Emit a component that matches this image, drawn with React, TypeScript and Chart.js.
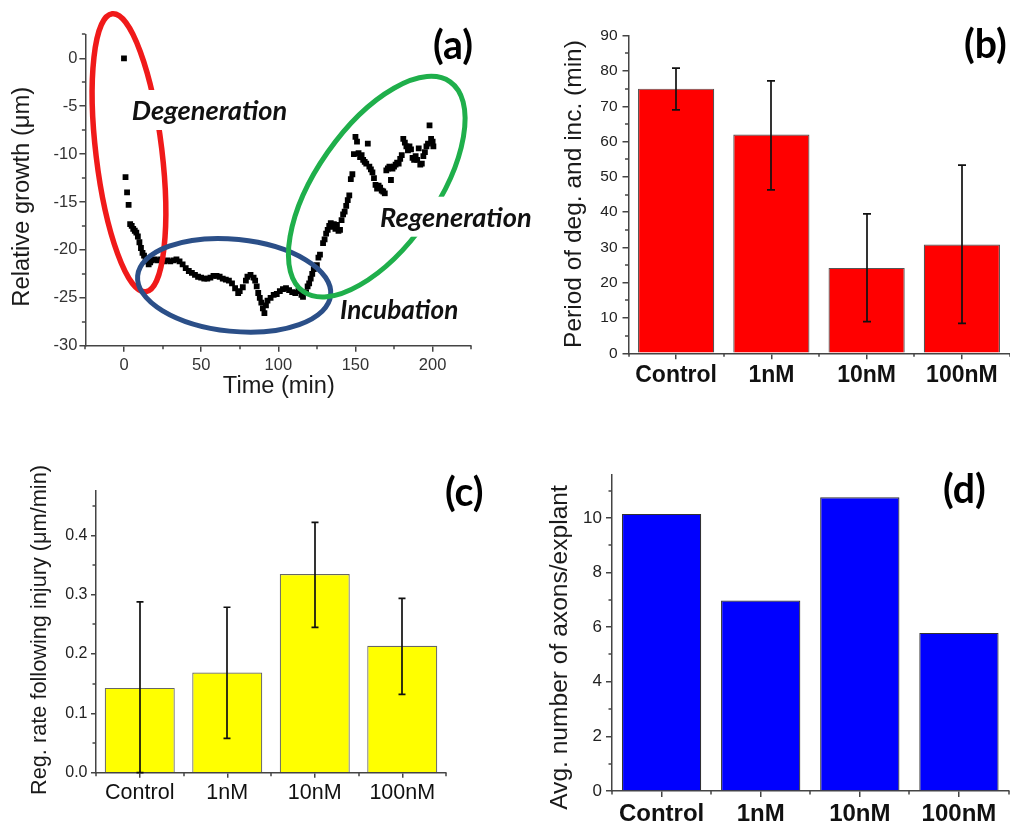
import React, { useEffect, useRef } from 'react';
import { Chart, registerables } from 'chart.js';
Chart.register(...registerables);

const W = 1010;
const H = 825;
const AX = '#444';
const FONT = '"Liberation Sans", Arial, sans-serif';
const LFONT = 'Lato, "Open Sans", sans-serif';

// ---------- Panel (a): relative growth vs time ----------
const timeMin = [
  0, 1, 2, 3, 4, 5, 6, 7, 8, 9,
  10, 11, 12, 13, 14, 15, 16, 17, 18, 20,
  22, 24, 26, 28, 30, 32, 34, 36, 38, 40,
  42, 44, 46, 48, 50, 52, 54, 56, 58, 60,
  62, 64, 66, 68, 70, 72, 74, 75, 77, 79,
  80, 82, 84, 85, 86, 87, 88, 89, 90, 91,
  92, 93, 95, 97, 99, 101, 103, 105, 107, 109,
  111, 113, 115, 116, 118, 119, 120, 121, 122, 123,
  125, 126, 127, 129, 130, 131, 132, 133, 134, 135,
  136, 137, 138, 139, 140, 141, 142, 143, 144, 145,
  146, 147, 148, 149, 150, 151, 152, 153, 154, 155,
  156, 157, 158, 159, 160, 161, 162, 163, 164, 165,
  166, 167, 168, 169, 170, 171, 172, 173, 174, 175,
  176, 177, 178, 179, 180, 181, 182, 183, 184, 185,
  186, 187, 188, 189, 190, 191, 192, 193, 194, 195,
  196, 197, 198, 199, 200, 200.5,
];
const growth = [
  0, -12.4, -14.0, -15.3, -17.3, -17.5, -17.8, -18.0, -18.2, -18.6,
  -19.2, -19.8, -20.3, -20.6, -20.9, -21.2, -21.5, -21.3, -21.1, -21.0,
  -21.1, -21.0, -21.2, -21.1, -21.2, -21.1, -21.0, -21.2, -21.5, -21.9,
  -22.2, -22.4, -22.6, -22.8, -22.9, -23.0, -23.0, -22.9, -22.7, -22.7,
  -22.8, -23.0, -23.1, -23.2, -23.5, -24.0, -24.5, -24.3, -23.9, -23.2,
  -22.8, -22.6, -22.9, -23.2, -23.8, -24.5, -25.0, -25.5, -26.1, -26.6,
  -25.8, -25.3, -25.0, -24.7, -24.6, -24.3, -24.1, -24.0, -24.2, -24.4,
  -24.5, -24.3, -24.7, -24.9, -24.4, -23.8, -23.5, -23.0, -22.5, -22.0,
  -21.6, -20.8, -20.5, -19.3, -18.9, -18.3, -17.9, -17.5, -17.2, -17.6,
  -17.3, -17.8, -17.4, -18.0, -17.9, -16.9, -16.3, -16.0, -15.4, -14.8,
  -14.3, -12.6, -12.1, -10.0, -8.2, -8.7, -9.9, -10.3, -10.1, -10.6,
  -10.8, -11.0, -8.9, -11.3, -11.6, -11.9, -12.5, -13.2, -13.6, -13.3,
  -13.5, -13.8, -13.9, -14.1, -11.7, -11.5, -11.3, -12.7, -11.5, -11.3,
  -11.1, -10.9, -11.0, -10.5, -10.1, -8.4, -8.8, -9.2, -9.6, -9.2,
  -9.5, -10.4, -10.6, -10.2, -10.6, -9.4, -11.1, -11.0, -10.2, -9.8,
  -9.2, -8.9, -7.0, -8.4, -8.7, -9.2,
];
const timeTicks = [0, 50, 100, 150, 200];
const timeMinor = [-25, 25, 75, 125, 175, 225];
const growthTicks = [-30, -25, -20, -15, -10, -5, 0];
const growthMinor = [-27.5, -22.5, -17.5, -12.5, -7.5, -2.5, 2.5];

// ---------- Bar panels ----------
const categories = ['Control', '1nM', '10nM', '100nM'];

const periodMean = [75, 62, 24.2, 30.8];
const periodLow = [69, 46.3, 9, 8.5];
const periodHigh = [80.8, 77.2, 39.5, 53.3];
const periodTicks = [0, 10, 20, 30, 40, 50, 60, 70, 80, 90];
const periodMinor = [5, 15, 25, 35, 45, 55, 65, 75, 85];

const regMean = [0.143, 0.169, 0.335, 0.214];
const regLow = [0, 0.058, 0.245, 0.132];
const regHigh = [0.288, 0.279, 0.422, 0.294];
const regTicks = [0, 0.1, 0.2, 0.3, 0.4];
const regMinor = [0.05, 0.15, 0.25, 0.35, 0.45];

const axonsMean = [10.15, 6.98, 10.76, 5.79];
const axonTicks = [0, 2, 4, 6, 8, 10];
const axonMinor = [1, 3, 5, 7, 9, 11];

type Area = { l: number; t: number; r: number; b: number };

function pad(a: Area, wy: number, hx: number) {
  return { left: a.l - wy, top: a.t, right: W - a.r, bottom: H - a.b - hx };
}

function fit(ctx: CanvasRenderingContext2D, text: string, width: number, font: (s: number) => string) {
  ctx.font = font(20);
  const w = ctx.measureText(text).width;
  return (20 * width) / w;
}

function drawYTitle(ctx: CanvasRenderingContext2D, text: string, cx: number, cy: number, len: number) {
  const f = (s: number) => `normal ${s}px ${FONT}`;
  const s = fit(ctx, text, len, f);
  ctx.save();
  ctx.translate(cx, cy);
  ctx.rotate(-Math.PI / 2);
  ctx.font = f(s);
  ctx.fillStyle = '#1a1a1a';
  ctx.textAlign = 'center';
  ctx.textBaseline = 'middle';
  ctx.fillText(text, 0, 0);
  ctx.restore();
}

function panelLabelSize(ctx: CanvasRenderingContext2D) {
  return fit(ctx, '(a)', 40, (s) => `bold ${s}px ${LFONT}`);
}

function drawPanelLabel(ctx: CanvasRenderingContext2D, text: string, x: number, base: number) {
  const s = panelLabelSize(ctx);
  ctx.save();
  ctx.font = `bold ${s}px ${LFONT}`;
  ctx.fillStyle = '#000';
  ctx.textAlign = 'left';
  ctx.textBaseline = 'alphabetic';
  ctx.fillText(text, x, base);
  ctx.restore();
}

function drawYMinor(chart: any, values: number[], len: number) {
  const ys = chart.scales.y;
  const ctx = chart.ctx as CanvasRenderingContext2D;
  const x0 = chart.chartArea.left;
  ctx.save();
  ctx.strokeStyle = AX;
  ctx.lineWidth = 1.5;
  values.forEach((v) => {
    const py = Math.round(ys.getPixelForValue(v));
    ctx.beginPath();
    ctx.moveTo(x0, py);
    ctx.lineTo(x0 - len, py);
    ctx.stroke();
  });
  ctx.restore();
}

function drawXMinorPixels(chart: any, pxs: number[], len: number) {
  const ctx = chart.ctx as CanvasRenderingContext2D;
  const y0 = chart.chartArea.bottom;
  ctx.save();
  ctx.strokeStyle = AX;
  ctx.lineWidth = 1.5;
  pxs.forEach((px) => {
    const x = Math.round(px);
    ctx.beginPath();
    ctx.moveTo(x, y0);
    ctx.lineTo(x, y0 + len);
    ctx.stroke();
  });
  ctx.restore();
}

function drawErrors(chart: any, low: number[], high: number[], cap: number) {
  const ctx = chart.ctx as CanvasRenderingContext2D;
  const meta = chart.getDatasetMeta(0);
  const ys = chart.scales.y;
  ctx.save();
  ctx.strokeStyle = '#111';
  ctx.lineWidth = 1.7;
  meta.data.forEach((bar: any, i: number) => {
    const x = Math.round(bar.x);
    const y1 = ys.getPixelForValue(low[i]);
    const y2 = ys.getPixelForValue(high[i]);
    ctx.beginPath();
    ctx.moveTo(x, y1);
    ctx.lineTo(x, y2);
    ctx.moveTo(x - cap, y1);
    ctx.lineTo(x + cap, y1);
    ctx.moveTo(x - cap, y2);
    ctx.lineTo(x + cap, y2);
    ctx.stroke();
  });
  ctx.restore();
}

function axis(o: { tl: number; size: number; bold?: boolean; color: string; padding: number }) {
  return {
    grid: {
      display: true,
      drawOnChartArea: false,
      drawTicks: true,
      tickLength: o.tl,
      color: AX,
      lineWidth: 1.5,
      offset: false,
    },
    border: { display: true, color: AX, width: 1.5 },
    ticks: {
      font: { family: FONT, size: o.size, weight: o.bold ? 'bold' : 'normal' },
      color: o.color,
      padding: o.padding,
      autoSkip: false,
      maxRotation: 0,
      minRotation: 0,
    },
  };
}

const baseOpts = {
  animation: false,
  responsive: false,
  maintainAspectRatio: false,
  devicePixelRatio: 1,
  events: [],
};

function makeA(canvas: HTMLCanvasElement) {
  const area: Area = { l: 85.4, t: 34.4, r: 471.2, b: 345.7 };
  const wy = 60;
  const hx = 30;
  const ellipses = [
    { cx: 3.24, cy: -9.86, rx: 33, ry: 140, rot: -0.12, color: '#f01a1a', lw: 5.5 },
    { cx: 71.4, cy: -23.7, rx: 97, ry: 46, rot: 0.1, color: '#2b4f88', lw: 5 },
    { cx: 163.8, cy: -13.4, rx: 128, ry: 60, rot: -0.96, color: '#1faf4b', lw: 5 },
  ];
  const notes = [
    { text: 'Degeneration', x: 131.7, base: 120, width: 155.6, box: true },
    { text: 'Regeneration', x: 380, base: 226.7, width: 151.7, box: true },
    { text: 'Incubation', x: 340, base: 319.3, width: 118.3, box: false },
  ];
  const overlay = {
    id: 'overlayA',
    afterDraw(chart: any) {
      const ctx = chart.ctx as CanvasRenderingContext2D;
      const xs = chart.scales.x;
      const ys = chart.scales.y;
      drawYMinor(chart, growthMinor, 3.5);
      drawXMinorPixels(chart, timeMinor.map((v) => xs.getPixelForValue(v)), 3.5);
      ellipses.forEach((e) => {
        ctx.save();
        ctx.strokeStyle = e.color;
        ctx.lineWidth = e.lw;
        ctx.beginPath();
        ctx.ellipse(xs.getPixelForValue(e.cx), ys.getPixelForValue(e.cy), e.rx, e.ry, e.rot, 0, Math.PI * 2);
        ctx.stroke();
        ctx.restore();
      });
      const nf = (s: number) => `italic bold ${s}px ${LFONT}`;
      notes.forEach((n) => {
        const s = fit(ctx, n.text, n.width, nf);
        ctx.save();
        if (n.box) {
          ctx.fillStyle = '#fff';
          ctx.fillRect(n.x - 4, n.base - 30, n.width + 8, 40);
        }
        ctx.font = nf(s);
        ctx.fillStyle = '#111';
        ctx.textAlign = 'left';
        ctx.textBaseline = 'alphabetic';
        ctx.fillText(n.text, n.x, n.base);
        ctx.restore();
      });
      drawYTitle(ctx, 'Relative growth (\u03bcm)', 22.5, 196.7, 220);
      const tf = (s: number) => `normal ${s}px ${FONT}`;
      const ts = fit(ctx, 'Time (min)', 112, tf);
      ctx.save();
      ctx.font = tf(ts);
      ctx.fillStyle = '#1a1a1a';
      ctx.textAlign = 'center';
      ctx.textBaseline = 'alphabetic';
      ctx.fillText('Time (min)', 278.8, 392.7);
      ctx.restore();
      drawPanelLabel(ctx, '(a)', 433, 58.5);
    },
  };
  const ax = axis({ tl: 6, size: 16.5, color: '#333', padding: 4 });
  const ay = axis({ tl: 6, size: 16.5, color: '#333', padding: 2 });
  return new Chart(canvas, {
    type: 'scatter',
    data: {
      datasets: [
        {
          data: timeMin.map((t, i) => ({ x: t, y: growth[i] })),
          pointStyle: 'rect',
          pointRadius: 4.1,
          backgroundColor: '#000',
          borderColor: '#000',
          borderWidth: 0,
        },
      ],
    },
    options: {
      ...baseOpts,
      layout: { padding: pad(area, wy, hx) },
      plugins: { legend: { display: false }, tooltip: { enabled: false } },
      scales: {
        x: {
          ...ax,
          type: 'linear',
          min: -25,
          max: 225,
          afterBuildTicks: (s: any) => {
            s.ticks = timeTicks.map((v) => ({ value: v }));
          },
          afterFit: (s: any) => {
            s.height = hx;
          },
        },
        y: {
          ...ay,
          type: 'linear',
          min: -30,
          max: 2.5,
          afterBuildTicks: (s: any) => {
            s.ticks = growthTicks.map((v) => ({ value: v }));
          },
          afterFit: (s: any) => {
            s.width = wy;
          },
        },
      },
    },
    plugins: [overlay],
  } as any);
}

type BarSpec = {
  area: Area;
  wy: number;
  hx: number;
  values: number[];
  low?: number[];
  high?: number[];
  color: string;
  border: string;
  yMax: number;
  yTicks: number[];
  yMinor: number[];
  dec: number;
  ySize: number;
  yPad: number;
  ytl: number;
  xSize: number;
  xBold: boolean;
  xPad: number;
  xtl: number;
  title: string;
  tx: number;
  ty: number;
  tlen: number;
  label: string;
  lx: number;
  lbase: number;
  cap: number;
};

function makeBar(canvas: HTMLCanvasElement, o: BarSpec) {
  const overlay = {
    id: 'overlayBar',
    afterDraw(chart: any) {
      const ctx = chart.ctx as CanvasRenderingContext2D;
      const xs = chart.scales.x;
      if (o.low && o.high) drawErrors(chart, o.low, o.high, o.cap);
      drawYMinor(chart, o.yMinor, 3.5);
      const edges: number[] = [];
      for (let i = 0; i <= categories.length; i++) edges.push(xs.getPixelForValue(i - 0.5));
      drawXMinorPixels(chart, edges, 3.5);
      drawYTitle(ctx, o.title, o.tx, o.ty, o.tlen);
      drawPanelLabel(ctx, o.label, o.lx, o.lbase);
    },
  };
  const ax = axis({ tl: o.xtl, size: o.xSize, bold: o.xBold, color: '#111', padding: o.xPad });
  const ay = axis({ tl: o.ytl, size: o.ySize, color: '#222', padding: o.yPad });
  return new Chart(canvas, {
    type: 'bar',
    data: {
      labels: categories,
      datasets: [
        {
          data: o.values,
          backgroundColor: o.color,
          borderColor: o.border,
          borderWidth: 1.2,
          barPercentage: 0.8,
          categoryPercentage: 1.0,
        },
      ],
    },
    options: {
      ...baseOpts,
      layout: { padding: pad(o.area, o.wy, o.hx) },
      plugins: { legend: { display: false }, tooltip: { enabled: false } },
      scales: {
        x: {
          ...ax,
          type: 'category',
          offset: true,
          afterFit: (s: any) => {
            s.height = o.hx;
          },
        },
        y: {
          ...ay,
          type: 'linear',
          min: 0,
          max: o.yMax,
          ticks: { ...ay.ticks, callback: (v: any) => Number(v).toFixed(o.dec) },
          afterBuildTicks: (s: any) => {
            s.ticks = o.yTicks.map((v) => ({ value: v }));
          },
          afterFit: (s: any) => {
            s.width = o.wy;
          },
        },
      },
    },
    plugins: [overlay],
  } as any);
}

export default function App() {
  const r0 = useRef<HTMLCanvasElement>(null);
  const r1 = useRef<HTMLCanvasElement>(null);
  const r2 = useRef<HTMLCanvasElement>(null);
  const r3 = useRef<HTMLCanvasElement>(null);

  useEffect(() => {
    const charts: Chart[] = [];
    charts.push(makeA(r0.current!));
    charts.push(
      makeBar(r1.current!, {
        area: { l: 628.5, t: 35.7, r: 1009.5, b: 353.3 },
        wy: 60,
        hx: 45,
        values: periodMean,
        low: periodLow,
        high: periodHigh,
        color: '#ff0000',
        border: '#555',
        yMax: 90,
        yTicks: periodTicks,
        yMinor: periodMinor,
        dec: 0,
        ySize: 15.5,
        yPad: 5,
        ytl: 6,
        xSize: 23,
        xBold: true,
        xPad: 3,
        xtl: 6,
        title: 'Period of deg. and inc. (min)',
        tx: 574,
        ty: 194,
        tlen: 308,
        label: '(b)',
        lx: 964,
        lbase: 58,
        cap: 4,
      })
    );
    charts.push(
      makeBar(r2.current!, {
        area: { l: 96, t: 491, r: 446, b: 772.7 },
        wy: 60,
        hx: 40,
        values: regMean,
        low: regLow,
        high: regHigh,
        color: '#ffff00',
        border: '#666',
        yMax: 0.475,
        yTicks: regTicks,
        yMinor: regMinor,
        dec: 1,
        ySize: 16,
        yPad: 3.5,
        ytl: 5,
        xSize: 21.5,
        xBold: false,
        xPad: 2,
        xtl: 5,
        title: 'Reg. rate following injury (\u03bcm/min)',
        tx: 40,
        ty: 630,
        tlen: 330,
        label: '(c)',
        lx: 445,
        lbase: 506,
        cap: 3.5,
      })
    );
    charts.push(
      makeBar(r3.current!, {
        area: { l: 612, t: 474.3, r: 1008.5, b: 791 },
        wy: 60,
        hx: 30,
        values: axonsMean,
        color: '#0000ff',
        border: '#333',
        yMax: 11.6,
        yTicks: axonTicks,
        yMinor: axonMinor,
        dec: 0,
        ySize: 17,
        yPad: 4,
        ytl: 6,
        xSize: 24,
        xBold: true,
        xPad: 3,
        xtl: 6,
        title: 'Avg. number of axons/explant',
        tx: 560,
        ty: 647.5,
        tlen: 325,
        label: '(d)',
        lx: 943,
        lbase: 503,
        cap: 4,
      })
    );
    return () => charts.forEach((c) => c.destroy());
  }, []);

  const cs: React.CSSProperties = { position: 'absolute', left: 0, top: 0, width: W, height: H };
  return (
    <div style={{ position: 'absolute', left: 0, top: 0, width: W, height: H, background: '#fff', overflow: 'hidden' }}>
      <canvas ref={r0} width={W} height={H} style={cs} />
      <canvas ref={r1} width={W} height={H} style={cs} />
      <canvas ref={r2} width={W} height={H} style={cs} />
      <canvas ref={r3} width={W} height={H} style={cs} />
    </div>
  );
}
